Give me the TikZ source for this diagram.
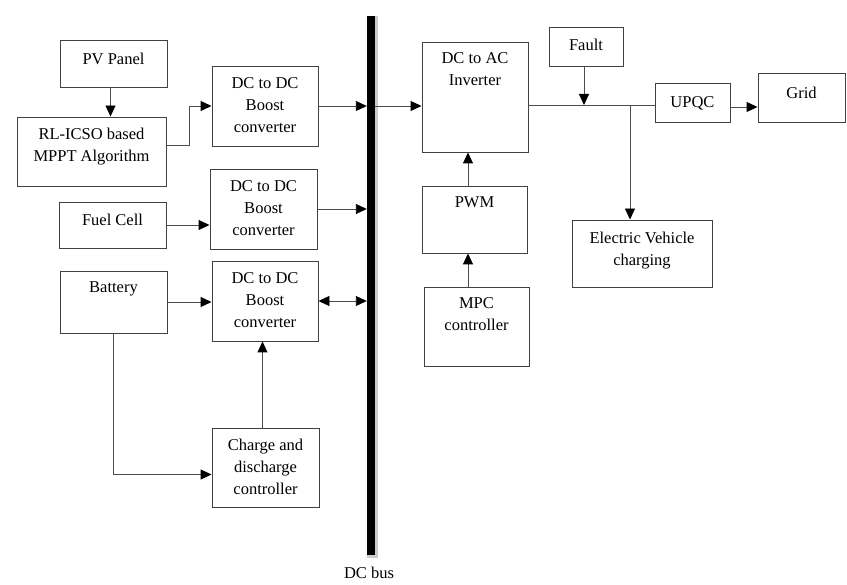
\documentclass[tikz,border=0pt]{standalone}
\usepackage{fontspec}
\setmainfont{Liberation Serif}
\usetikzlibrary{arrows.meta}

\tikzset{
  blk/.style={draw=black!75, line width=0.9pt, inner sep=0pt},
  txt/.style={anchor=north, align=center, inner sep=0pt, font=\fontsize{16.5}{22}\selectfont},
  con/.style={draw=black!70, line width=0.9pt},
  >={Triangle[length=11pt,width=10pt,color=black]}
}

\begin{document}
\begin{tikzpicture}[x=1pt,y=-1pt]

  \useasboundingbox (0,0) rectangle (847,585);

  % left column
  \node[blk, minimum width=107pt, minimum height=47pt] (pv) at (113.5,63.5) {};
  \node[txt] (pvt) at ([yshift=-13pt]pv.north) {PV Panel};

  \node[blk, minimum width=149pt, minimum height=69pt] (rl) at (91.5,151.5) {};
  \node[txt] (rlt) at ([yshift=-11pt]rl.north) {RL-ICSO based\\MPPT Algorithm};

  \node[blk, minimum width=107pt, minimum height=46pt] (fuel) at (112.5,225) {};
  \node[txt] (fuelt) at ([yshift=-12pt]fuel.north) {Fuel Cell};

  \node[blk, minimum width=107pt, minimum height=62pt] (bat) at (113.5,302) {};
  \node[txt] (batt) at ([yshift=-11pt]bat.north) {Battery};

  % converters
  \node[blk, minimum width=106pt, minimum height=80pt] (dc1) at (265,106) {};
  \node[txt] (dc1t) at ([yshift=-12pt]dc1.north) {DC to DC\\Boost\\converter};

  \node[blk, minimum width=107pt, minimum height=80pt] (dc2) at (263.5,209) {};
  \node[txt] (dc2t) at ([yshift=-12pt]dc2.north) {DC to DC\\Boost\\converter};

  \node[blk, minimum width=106pt, minimum height=80pt] (dc3) at (265,301) {};
  \node[txt] (dc3t) at ([yshift=-12pt]dc3.north) {DC to DC\\Boost\\converter};

  \node[blk, minimum width=107pt, minimum height=79pt] (chg) at (265.5,467.5) {};
  \node[txt] (chgt) at ([yshift=-11pt]chg.north) {Charge and\\discharge\\controller};

  % dc bus
  \node[fill=black!20, minimum width=11pt, minimum height=541pt, inner sep=0pt] (busbg) at (372.5,287) {};
  \node[fill=black, minimum width=8pt, minimum height=539pt, inner sep=0pt] (bus) at (371,285.5) {};
  \node[txt] (bust) at (369,567) {DC bus};

  % right side
  \node[blk, minimum width=106pt, minimum height=110pt] (inv) at (475,97) {};
  \node[txt] (invt) at ([yshift=-11pt]inv.north) {DC to AC\\Inverter};

  \node[blk, minimum width=105pt, minimum height=67pt] (pwm) at (474.5,219.5) {};
  \node[txt] (pwmt) at ([yshift=-11pt]pwm.north) {PWM};

  \node[blk, minimum width=105pt, minimum height=79pt] (mpc) at (476.5,326.5) {};
  \node[txt] (mpct) at ([yshift=-11pt]mpc.north) {MPC\\controller};

  \node[blk, minimum width=74pt, minimum height=39pt] (fault) at (586,46.5) {};
  \node[txt] (faultt) at ([yshift=-12pt]fault.north) {Fault};

  \node[blk, minimum width=75pt, minimum height=39pt] (upqc) at (692.5,102.5) {};
  \node[txt] (upqct) at ([yshift=-14pt]upqc.north) {UPQC};

  \node[blk, minimum width=87pt, minimum height=49pt] (grid) at (801.5,97.5) {};
  \node[txt] (gridt) at ([yshift=-14pt]grid.north) {Grid};

  \node[blk, minimum width=140pt, minimum height=67pt] (ev) at (642,253.5) {};
  \node[txt] (evt) at ([yshift=-12pt]ev.north) {Electric Vehicle\\charging};

  \coordinate (jn) at (630,105);
  \coordinate (bx) at (0,106);

  % connectors
  \draw[con,->] ([xshift=-3pt]pv.south) -- ([xshift=-3pt]pv.south |- rl.north);
  \draw[con,->] ([yshift=6pt]rl.east) -- ++(23,0) |- (dc1.west);
  \draw[con,->] (fuel.east) -- (fuel.east -| dc2.west);
  \draw[con,->] (bat.east) -- (bat.east -| dc3.west);
  \draw[con,->] (bat.south) |- ([yshift=-7pt]chg.west);
  \draw[con,->] ([xshift=-3pt]chg.north) -- ([xshift=-3pt]chg.north |- dc3.south);

  \draw[con,->] (dc1.east) -- (dc1.east -| bus.west);
  \draw[con,->] (dc2.east) -- (dc2.east -| bus.west);
  \draw[con,<->] (dc3.east) -- (dc3.east -| bus.west);

  \draw[con,->] (bus.east |- bx) -- (inv.west |- bx);
  \draw[con] (inv.east |- jn) -- (upqc.west |- jn);
  \draw[con,->] ([xshift=-2pt]fault.south) -- ([xshift=-2pt]fault.south |- jn);
  \draw[con,->] (jn) -- (jn |- ev.north);
  \draw[con,->] ([yshift=-4.5pt]upqc.east) -- ([yshift=-4.5pt]upqc.east -| grid.west);

  \draw[con,->] ([xshift=-6.5pt]pwm.north) -- ([xshift=-6.5pt]pwm.north |- inv.south);
  \draw[con,->] ([xshift=-8.5pt]mpc.north) -- ([xshift=-8.5pt]mpc.north |- pwm.south);

\end{tikzpicture}
\end{document}
